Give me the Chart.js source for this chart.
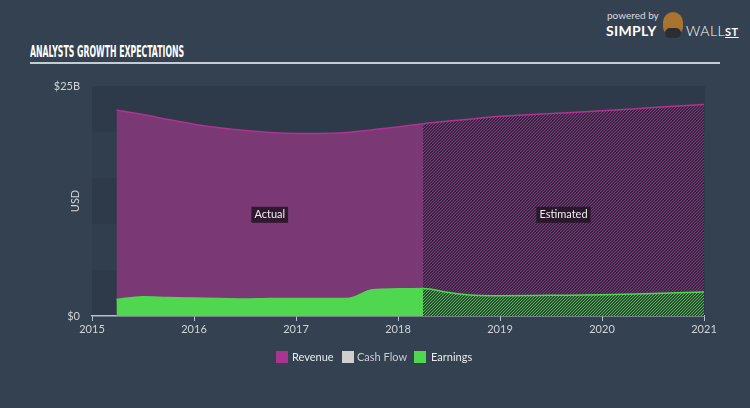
<!DOCTYPE html>
<html>
<head>
<meta charset="utf-8">
<script src="https://cdn.jsdelivr.net/npm/chart.js@4"></script>
<style>
  html, body { margin: 0; padding: 0; }
  body { width: 750px; height: 408px; background: #344150; position: relative; overflow: hidden; font-family: Lato, "Open Sans", sans-serif; }
  #wrap { position: absolute; left: 0; top: 0; width: 750px; height: 408px; }
  .title { position: absolute; left: 30px; top: 43px; color: #fff; font-family: "DejaVu Sans Condensed", "Liberation Sans Narrow", sans-serif; font-weight: bold; font-size: 15px; white-space: nowrap; transform-origin: left; }
  .rule { position: absolute; left: 30px; top: 62px; width: 690px; height: 2px; background: #c5ccd4; }
  .logo { position: absolute; left: 606px; top: 8px; color: #fff; }
  .logo .pb { position: absolute; left: 1px; top: 1px; font-size: 10px; color: #d8dce0; white-space: nowrap; }
  .logo .simply { position: absolute; left: 0; top: 14px; font-size: 14px; font-weight: bold; letter-spacing: 0.3px; }
  .logo .bull { position: absolute; left: 57px; top: 4px; width: 20px; height: 24px; border-radius: 10px 10px 9px 9px; background: #a8742f; }
  .logo .suit { position: absolute; left: 59px; top: 20px; width: 16px; height: 10px; border-radius: 6px; background: #2a2e33; }
  .logo .wall { position: absolute; left: 80px; top: 14px; font-size: 14px; font-weight: 300; letter-spacing: 0.5px; white-space: nowrap; }
  .logo .wall u { font-size: 11px; font-weight: bold; }
  .legend { position: absolute; top: 351px; left: 0; width: 750px; font-size: 11px; color: #e8eaec; }
  .legend span.box { position: absolute; width: 12px; height: 12px; top: 0; }
  .legend span.txt { position: absolute; top: -1px; white-space: nowrap; }
</style>
</head>
<body>
<div class="title" id="title">ANALYSTS GROWTH EXPECTATIONS</div>
<div class="rule"></div>
<div class="logo">
  <div class="pb">powered by</div>
  <div class="simply">SIMPLY</div>
  <div class="bull"></div>
  <div class="suit"></div>
  <div class="wall">WALL<u>ST</u></div>
</div>
<div id="wrap"><canvas id="chart" width="750" height="408"></canvas></div>
<div class="legend">
  <span class="box" style="left:276px;background:#a9358f"></span><span class="txt" style="left:292px">Revenue</span>
  <span class="box" style="left:342px;background:#cfcfcf"></span><span class="txt" style="left:357px;color:#c8ccd0">Cash Flow</span>
  <span class="box" style="left:414px;background:#4fd84f"></span><span class="txt" style="left:431px">Earnings</span>
</div>
<script>
const years = [2015.24, 2015.5, 2015.75, 2016.0, 2016.25, 2016.5, 2016.75, 2017.0, 2017.25, 2017.5, 2017.75, 2018.0, 2018.245, 2018.5, 2018.75, 2019.0, 2019.5, 2020.0, 2020.5, 2021.0];
const revenue = [22.4, 21.9, 21.35, 20.85, 20.45, 20.15, 19.95, 19.85, 19.85, 19.95, 20.25, 20.55, 20.9, 21.2, 21.45, 21.7, 22.0, 22.3, 22.65, 23.0];
const earnings = [1.8, 2.1, 2.0, 1.95, 1.9, 1.85, 1.9, 1.9, 1.9, 1.9, 2.85, 2.95, 3.0, 2.55, 2.25, 2.2, 2.25, 2.3, 2.45, 2.6];
const cashFlow = [];
const splitYear = 2018.245;
const xTicks = [2015, 2016, 2017, 2018, 2019, 2020, 2021];
const yTicks = [0, 25];

// squeeze the title into the condensed width of the original
const titleEl = document.getElementById('title');
titleEl.style.transform = 'scaleX(' + (154 / titleEl.offsetWidth) + ')';

const ctx = document.getElementById('chart').getContext('2d');

function hatch(bg, line) {
    const c = document.createElement('canvas');
    c.width = 3; c.height = 3;
    const g = c.getContext('2d');
    g.fillStyle = bg; g.fillRect(0, 0, 3, 3);
    g.fillStyle = line;
    g.fillRect(0, 2, 1, 1); g.fillRect(1, 1, 1, 1); g.fillRect(2, 0, 1, 1);
    return ctx.createPattern(c, 'repeat');
}
const revHatch = hatch('#382842', '#833880');
const earnHatch = hatch('#2d4638', '#4cc44c');

const toPts = arr => years.map((x, i) => ({ x: x, y: arr[i] }));

// background bands + Actual / Estimated tags
const bands = {
    id: 'bands',
    beforeDraw(chart) {
        const { ctx, chartArea: a, scales: { y } } = chart;
        const step = 5;
        for (let v = 0, k = 0; v < 25; v += step, k++) {
            const top = y.getPixelForValue(v + step), bot = y.getPixelForValue(v);
            ctx.fillStyle = k % 2 === 0 ? '#2e3a49' : '#313e4d';
            ctx.fillRect(a.left, top, a.right - a.left + 1, bot - top);
        }
    },
    afterDraw(chart) {
        const { ctx, chartArea: a, scales: { x, y } } = chart;
        const tag = (txt, cx) => {
            ctx.font = '11px Lato, "Open Sans", sans-serif';
            const w = ctx.measureText(txt).width + 6;
            const cy = y.getPixelForValue(11);
            ctx.fillStyle = 'rgba(35,20,35,0.85)';
            ctx.fillRect(cx - w / 2, cy - 8, w, 16);
            ctx.fillStyle = '#eee';
            ctx.textAlign = 'center'; ctx.textBaseline = 'middle';
            ctx.fillText(txt, cx, cy);
        };
        const x0 = x.getPixelForValue(years[0]), xs = x.getPixelForValue(splitYear), x1 = x.getPixelForValue(years[years.length - 1]);
        tag('Actual', (x0 + xs) / 2);
        tag('Estimated', (xs + x1) / 2);
        // USD axis title
        ctx.save();
        ctx.translate(75, (a.top + a.bottom) / 2);
        ctx.rotate(-Math.PI / 2);
        ctx.fillStyle = '#d0d4d8';
        ctx.font = '11px Lato, "Open Sans", sans-serif';
        ctx.textAlign = 'center'; ctx.textBaseline = 'middle';
        ctx.fillText('USD', 0, 0);
        ctx.restore();
    }
};

new Chart(ctx, {
    type: 'line',
    data: {
        datasets: [
            {
                label: 'Earnings',
                data: toPts(earnings),
                borderColor: '#4fd84f',
                borderWidth: 1.5,
                backgroundColor: '#4fd84f',
                fill: 'origin',
                pointRadius: 0,
                cubicInterpolationMode: 'monotone',
                order: 0,
                segment: { backgroundColor: c => c.p0.parsed.x >= splitYear ? earnHatch : '#4fd84f' }
            },
            {
                label: 'Cash Flow',
                data: cashFlow,
                borderColor: '#cfcfcf',
                backgroundColor: '#cfcfcf',
                pointRadius: 0,
                order: 1
            },
            {
                label: 'Revenue',
                data: toPts(revenue),
                borderColor: '#b0338f',
                borderWidth: 1.5,
                backgroundColor: '#7a3875',
                fill: 'origin',
                pointRadius: 0,
                cubicInterpolationMode: 'monotone',
                order: 2,
                segment: { backgroundColor: c => c.p0.parsed.x >= splitYear ? revHatch : '#7a3875' }
            }
        ]
    },
    options: {
        responsive: false,
        animation: false,
        layout: { padding: { left: 0, right: 46, top: 86, bottom: 62 } },
        plugins: { legend: { display: false }, tooltip: { enabled: false } },
        scales: {
            x: {
                type: 'linear',
                min: 2015, max: 2021,
                afterBuildTicks: s => { s.ticks = xTicks.map(v => ({ value: v })); },
                afterFit: s => { s.height = 30; },
                ticks: { color: '#d0d4d8', font: { size: 11, family: 'Lato, "Open Sans", sans-serif' }, padding: 2, maxRotation: 0, callback: v => String(v) },
                grid: { drawOnChartArea: false, drawTicks: true, tickLength: 5, color: '#b8c0c8' },
                border: { color: '#b8c0c8', width: 1.5 }
            },
            y: {
                min: 0, max: 25,
                afterBuildTicks: s => { s.ticks = yTicks.map(v => ({ value: v })); },
                afterFit: s => { s.width = 92; },
                ticks: { color: '#d0d4d8', font: { size: 11, family: 'Lato, "Open Sans", sans-serif' }, padding: 12, callback: v => v === 0 ? '$0' : '$' + v + 'B' },
                grid: { display: false, drawTicks: false },
                border: { display: false }
            }
        }
    },
    plugins: [bands]
});
</script>
</body>
</html>
